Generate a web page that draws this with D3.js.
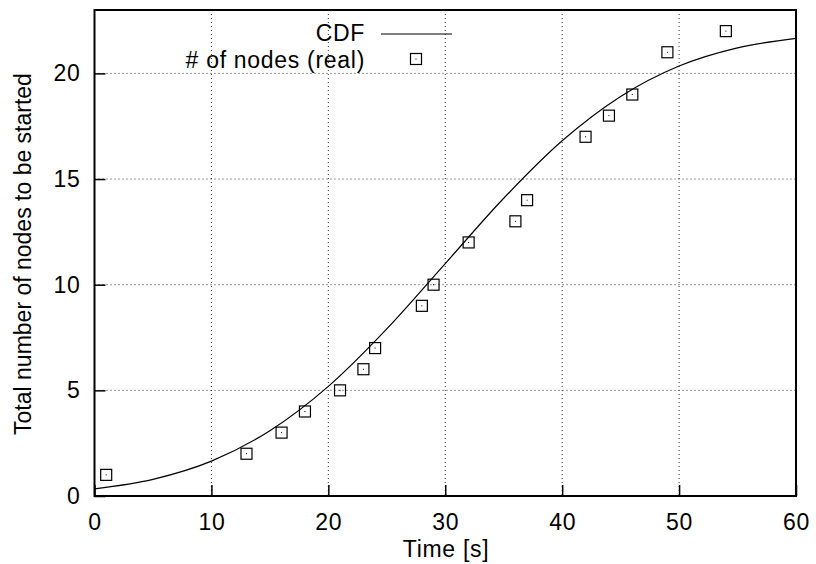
<!DOCTYPE html>
<html><head><meta charset="utf-8">
<script src="https://cdn.jsdelivr.net/npm/d3@7"></script>
<style>body{margin:0;background:#fff}svg{display:block}text{font-family:"Liberation Sans",Arial,sans-serif;fill:#000}</style>
</head><body><svg id="c" width="816" height="564"></svg>
<script>
const realTimes = [1,13,16,18,21,23,24,28,29,32,36,37,42,44,46,49,54];
const realNodes = [1,2,3,4,5,6,7,9,10,12,13,14,17,18,19,21,22];
const cdfTimes = [0,5,10,15,20,25,30,35,40,45,50,55,60];
const cdfValues = [0.34,0.79,1.65,3.09,5.19,7.91,11.0,14.09,16.81,18.91,20.35,21.21,21.66];
const xTicks = [0,10,20,30,40,50,60];
const yTicks = [0,5,10,15,20];

const FS = 23, LS = "0.7px";
const svg = d3.select("#c");
const L=94.5,R=796,T=10,B=496;
const x = d3.scaleLinear().domain([0,60]).range([L,R]);
const y = d3.scaleLinear().domain([0,23]).range([B,T]);

// grid
svg.append("g").selectAll("line").data(xTicks.filter(d=>d>0&&d<60)).join("line")
  .attr("x1",d=>x(d)).attr("x2",d=>x(d)).attr("y1",T).attr("y2",B)
  .attr("stroke","#333").attr("stroke-width",1).attr("stroke-dasharray","1,3");
svg.append("g").selectAll("line").data(yTicks.filter(d=>d>0)).join("line")
  .attr("x1",L).attr("x2",R).attr("y1",d=>y(d)).attr("y2",d=>y(d))
  .attr("stroke","#333").attr("stroke-width",1).attr("stroke-dasharray","1,3");

// axes
const xa = svg.append("g").attr("transform",`translate(0,${B})`)
  .call(d3.axisBottom(x).tickValues(xTicks).tickSizeInner(-11).tickSizeOuter(0).tickPadding(16));
const ya = svg.append("g").attr("transform",`translate(${L},0)`)
  .call(d3.axisLeft(y).tickValues(yTicks).tickSizeInner(-11).tickSizeOuter(0).tickPadding(14));
[xa,ya].forEach(a=>{a.select(".domain").remove();
  a.selectAll(".tick line").attr("stroke","#000").attr("stroke-width",1.5);
  a.selectAll(".tick text").attr("font-size",FS).attr("letter-spacing",LS).attr("font-family","Liberation Sans, Arial, sans-serif");});
xa.selectAll(".tick text").attr("dy","0.78em");

// frame
svg.append("rect").attr("x",L).attr("y",T).attr("width",R-L).attr("height",B-T)
  .attr("fill","none").attr("stroke","#000").attr("stroke-width",2);

// CDF line
const line = d3.line().x((d,i)=>x(cdfTimes[i])).y(d=>y(d)).curve(d3.curveMonotoneX);
svg.append("path").attr("d",line(cdfValues)).attr("fill","none").attr("stroke","#000").attr("stroke-width",1.2);

// points
function marker(g,cx,cy){
  g.append("rect").attr("x",cx-5.5).attr("y",cy-5.5).attr("width",11).attr("height",11)
    .attr("fill","none").attr("stroke","#000").attr("stroke-width",1.2);
  g.append("rect").attr("x",cx-0.5).attr("y",cy-0.5).attr("width",1).attr("height",1).attr("fill","#000");
}
const pg = svg.append("g");
realTimes.forEach((t,i)=>marker(pg,x(t),y(realNodes[i])));

// legend
svg.append("text").attr("x",365).attr("y",33).attr("dy","0.35em").attr("text-anchor","end").attr("font-size",FS).attr("letter-spacing",LS).text("CDF");
svg.append("line").attr("x1",381).attr("x2",452).attr("y1",34).attr("y2",34).attr("stroke","#000").attr("stroke-width",1.2);
svg.append("text").attr("x",365).attr("y",60).attr("dy","0.35em").attr("text-anchor","end").attr("font-size",FS).attr("letter-spacing",LS).text("# of nodes (real)");
marker(svg,416,59);

// axis labels
svg.append("text").attr("x",446).attr("y",549).attr("dy","0.35em").attr("text-anchor","middle").attr("font-size",FS).attr("letter-spacing",LS).text("Time [s]");
svg.append("text").attr("transform","translate(23,254) rotate(-90)").attr("dy","0.35em").attr("text-anchor","middle").attr("font-size",FS).text("Total number of nodes to be started");
</script></body></html>
